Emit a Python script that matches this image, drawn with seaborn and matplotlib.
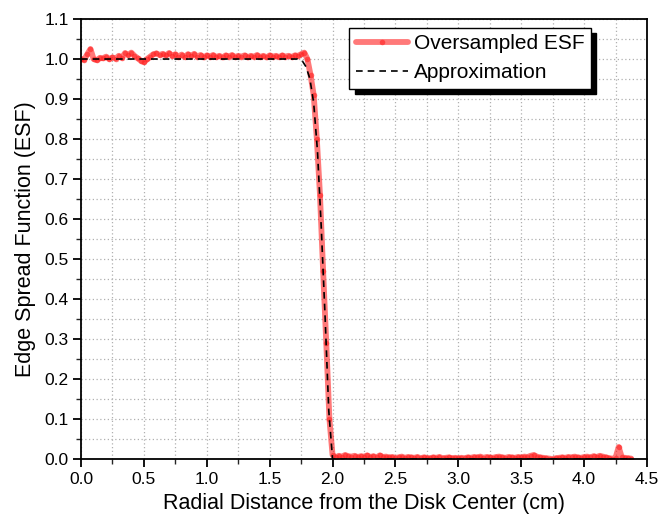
import numpy as np
import pandas as pd
import seaborn as sns
import matplotlib.pyplot as plt
from matplotlib.ticker import MultipleLocator

# oversampled ESF, sampled every 0.025 cm from 0 to 4.375 cm
esf_x = np.round(np.arange(0, 4.3875, 0.025), 3)
esf_y = [
    1.000, 0.998, 1.012, 1.025, 1.000, 0.997, 1.003, 1.002, 1.006, 1.000,
    1.004, 1.001, 1.008, 1.003, 1.015, 1.010, 1.016, 1.008, 1.002, 0.996,
    0.992, 1.000, 1.006, 1.012, 1.014, 1.010, 1.013, 1.009, 1.015, 1.008,
    1.012, 1.006, 1.011, 1.005, 1.012, 1.008, 1.013, 1.006, 1.010, 1.004,
    1.009, 1.006, 1.010, 1.005, 1.008, 1.004, 1.009, 1.006, 1.010, 1.005,
    1.008, 1.006, 1.009, 1.004, 1.008, 1.006, 1.010, 1.005, 1.008, 1.004,
    1.009, 1.006, 1.008, 1.005, 1.009, 1.006, 1.008, 1.005, 1.009, 1.008,
    1.012, 1.016,
    # edge 1.800 - 2.000
    1.000, 0.960, 0.910, 0.800, 0.660, 0.470, 0.290, 0.100, 0.010,
    # tail 2.025 - 4.375
    0.004, 0.008, 0.006, 0.010, 0.007, 0.006, 0.008, 0.005, 0.007, 0.006,
    0.009, 0.005, 0.007, 0.004, 0.009, 0.005, 0.006, 0.004, 0.005, 0.003,
    0.004, 0.006, 0.003, 0.005, 0.004, 0.003, 0.005, 0.002, 0.004, 0.003,
    0.002, 0.004, 0.003, 0.005, 0.002, 0.003, 0.004, 0.002, 0.003, 0.002,
    0.003, 0.002, 0.004, 0.003, 0.005, 0.004, 0.006, 0.003, 0.005, 0.004,
    0.003, 0.005, 0.006, 0.004, 0.003, 0.005, 0.004, 0.003, 0.005, 0.004,
    0.006, 0.005, 0.008, 0.010, 0.006, 0.004, 0.003, 0.002, 0.001, 0.000,
    0.002, 0.003, 0.004, 0.003, 0.005, 0.004, 0.006, 0.004, 0.003, 0.005,
    0.006, 0.004, 0.007, 0.005, 0.008, 0.006, 0.004, 0.002, 0.001, 0.003,
    0.030, 0.004, 0.003, 0.002, 0.001,
]

# fitted approximation
approx_x = [0.0, 1.72, 1.76, 1.79, 1.82, 1.85, 1.88, 1.91, 1.94, 1.97, 2.0, 4.38]
approx_y = [1.0, 1.0, 0.995, 0.98, 0.95, 0.89, 0.77, 0.58, 0.36, 0.12, 0.0, 0.0]

esf = pd.DataFrame({"r": esf_x, "esf": esf_y})
approx = pd.DataFrame({"r": approx_x, "esf": approx_y})

sns.set_style("ticks")
plt.rcParams["font.family"] = ["Liberation Sans", "DejaVu Sans"]
plt.rcParams["text.color"] = "black"
plt.rcParams["axes.labelcolor"] = "black"

fig = plt.figure(figsize=(6.62, 5.21), dpi=100)
ax = fig.add_axes([0.1224, 0.119, 0.8549, 0.8445])

sns.lineplot(data=esf, x="r", y="esf", ax=ax, color="#ff2020", lw=4.2, alpha=0.6,
             marker="o", markersize=4, markeredgewidth=0, label="Oversampled ESF",
             estimator=None, sort=False)
sns.lineplot(data=approx, x="r", y="esf", ax=ax, color="black", lw=1.2,
             linestyle=(0, (4, 3)), label="Approximation", estimator=None, sort=False)

ax.set_xlim(0, 4.5)
ax.set_ylim(0, 1.1)
ax.xaxis.set_major_locator(MultipleLocator(0.5))
ax.xaxis.set_minor_locator(MultipleLocator(0.25))
ax.yaxis.set_major_locator(MultipleLocator(0.1))
ax.yaxis.set_minor_locator(MultipleLocator(0.05))
ax.xaxis.set_major_formatter(plt.FuncFormatter(lambda v, p: f"{v:.1f}"))
ax.yaxis.set_major_formatter(plt.FuncFormatter(lambda v, p: f"{v:.1f}"))
ax.grid(True, which="both", color="#b0b0b0", linestyle=(0, (1, 2)), lw=0.9)
ax.tick_params(which="major", direction="out", length=6, width=1.3, labelsize=12.5,
               colors="black", pad=3)
ax.tick_params(which="minor", direction="out", length=3.5, width=1.0)
for s in ax.spines.values():
    s.set_linewidth(1.3)
    s.set_color("black")

ax.set_xlabel("Radial Distance from the Disk Center (cm)", fontsize=15.5, labelpad=5)
ax.set_ylabel("Edge Spread Function (ESF)", fontsize=15.5, labelpad=6)

leg = ax.legend(loc="upper right", bbox_to_anchor=(0.901, 0.98), borderaxespad=0,
                fontsize=15, fancybox=False, framealpha=1, edgecolor="black",
                shadow={"color": "black", "alpha": 1, "ox": 4, "oy": -4},
                handlelength=2.5, borderpad=0.3, labelspacing=0.5, handletextpad=0.3)
leg.get_frame().set_linewidth(1.0)

plt.savefig("out.png", dpi=100)
plt.close()
